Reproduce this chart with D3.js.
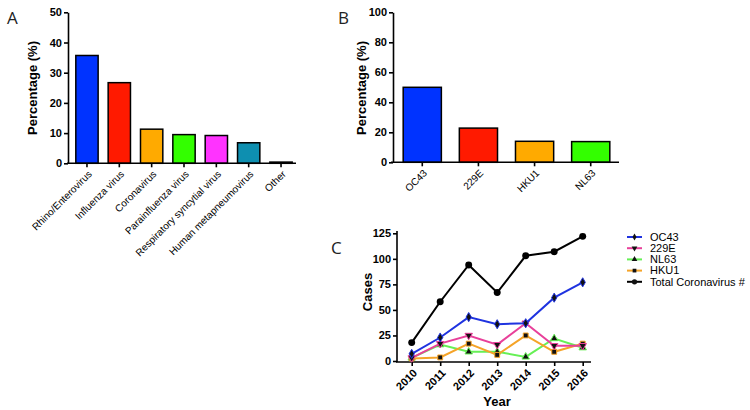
<!DOCTYPE html>
<html><head><meta charset="utf-8">
<script src="https://cdn.jsdelivr.net/npm/d3@7"></script>
<style>
body{margin:0;background:#fff;}
svg{display:block;font-family:"Liberation Sans",Arial,sans-serif;}
.axis path,.axis line{stroke:#000;stroke-width:1.6;}
.axis text{fill:#000;}
</style></head><body>
<svg id="c" width="750" height="410"></svg>
<script>
// Panel A
const catsA = ["Rhino/Enterovirus","Influenza virus","Coronavirus","Parainfluenza virus","Respiratory syncytial virus","Human metapneumovirus","Other"];
const valsA = [35.7, 26.7, 11.3, 9.5, 9.2, 6.8, 0.4];
const colorsA = ["#0033ff","#ff1a00","#ffaa00","#33ff00","#ff33ff","#0e8fb0","#ffffff"];
const ticksA = [0,10,20,30,40,50];
// Panel B
const catsB = ["OC43","229E","HKU1","NL63"];
const valsB = [50, 22.8, 14, 13.8];
const colorsB = ["#0033ff","#ff1a00","#ffaa00","#33ff00"];
const ticksB = [0,20,40,60,80,100];
// Panel C
const years = [2010,2011,2012,2013,2014,2015,2016];
const oc43 = [7, 23, 43, 36, 37, 62, 77];
const e229 = [3, 17, 25, 16, 37, 15, 15];
const nl63 = [3, 16, 9, 9, 4, 22, 13];
const hku1 = [2.5, 3.5, 17, 6, 25, 9, 17];
const total = [18, 58, 94, 67, 103, 107, 122];
const ticksC = [0,25,50,75,100,125];
const seriesNames = ["OC43","229E","NL63","HKU1","Total Coronavirus #"];
const seriesColors = ["#1f33e0","#e8409a","#66f055","#f5a428","#000000"];
const seriesSymbols = [d3.symbolDiamond, d3.symbolTriangle, d3.symbolTriangle, d3.symbolSquare, d3.symbolCircle];

const svg = d3.select("#c");

function panelLetter(t,x,y){
  svg.append("text").attr("x",x).attr("y",y).attr("font-family","'Open Sans',sans-serif")
    .attr("font-size",17).attr("fill","#222").text(t);
}
panelLetter("A",7,24);
panelLetter("B",338,24);
panelLetter("C",331,254);

function styleAxis(g){
  g.attr("class","axis").attr("fill","#000");
  g.selectAll("text").attr("font-weight","bold").attr("font-size",11).attr("fill","#000");
}
function rotateLabels(g, size, weight){
  g.selectAll(".tick text").attr("font-weight",weight).attr("font-size",size)
    .attr("x",0).attr("y",0).attr("dx",0).attr("dy","0.35em")
    .attr("text-anchor","end").attr("transform","translate(3,9) rotate(-45)");
}

// ---- Panel A
const xA = d3.scaleBand().domain(catsA).range([70.8,297.2]).paddingInner(0.31).paddingOuter(0.155);
const yA = d3.scaleLinear().domain([0,50]).range([163.3,12.3]);
svg.append("g").selectAll("rect").data(catsA).join("rect")
  .attr("x",d=>xA(d)).attr("width",xA.bandwidth())
  .attr("y",(d,i)=>yA(valsA[i])).attr("height",(d,i)=>yA(0)-yA(valsA[i]))
  .attr("fill",(d,i)=>colorsA[i]).attr("stroke","#000").attr("stroke-width",1.5);
const gAy = svg.append("g").attr("transform","translate(68,0)")
  .call(d3.axisLeft(yA).tickValues(ticksA).tickSize(4).tickPadding(2).tickSizeOuter(0));
styleAxis(gAy);
const gAx = svg.append("g").attr("transform",`translate(0,${yA(0)})`)
  .call(d3.axisBottom(xA).tickSize(4).tickSizeOuter(0));
styleAxis(gAx);
gAx.select(".domain").attr("d","M67,0H296");
rotateLabels(gAx, 10, "normal");
svg.append("text").attr("transform","translate(37,88) rotate(-90)").attr("text-anchor","middle")
  .attr("font-weight","bold").attr("font-size",13).text("Percentage (%)");

// ---- Panel B
const xB = d3.scaleBand().domain(catsB).range([394.2,618.8]).paddingInner(0.32).paddingOuter(0.16);
const yB = d3.scaleLinear().domain([0,100]).range([162.3,12.3]);
svg.append("g").selectAll("rect").data(catsB).join("rect")
  .attr("x",d=>xB(d)).attr("width",xB.bandwidth())
  .attr("y",(d,i)=>yB(valsB[i])).attr("height",(d,i)=>yB(0)-yB(valsB[i]))
  .attr("fill",(d,i)=>colorsB[i]).attr("stroke","#000").attr("stroke-width",1.5);
const gBy = svg.append("g").attr("transform","translate(393,0)")
  .call(d3.axisLeft(yB).tickValues(ticksB).tickSize(4).tickPadding(2).tickSizeOuter(0));
styleAxis(gBy);
const gBx = svg.append("g").attr("transform",`translate(0,${yB(0)})`)
  .call(d3.axisBottom(xB).tickSize(4).tickSizeOuter(0));
styleAxis(gBx);
gBx.select(".domain").attr("d","M391,0H619");
rotateLabels(gBx, 10, "normal");
svg.append("text").attr("transform","translate(366,88) rotate(-90)").attr("text-anchor","middle")
  .attr("font-weight","bold").attr("font-size",13).text("Percentage (%)");

// ---- Panel C
const xC = d3.scalePoint().domain(years).range([411.7,582.7]);
const yC = d3.scaleLinear().domain([0,125]).range([361,233.3]);
const gCy = svg.append("g").attr("transform","translate(397,0)")
  .call(d3.axisLeft(yC).tickValues(ticksC).tickSize(4).tickPadding(2).tickSizeOuter(0));
styleAxis(gCy);
gCy.select(".domain").attr("d","M0,231V362");
const gCx = svg.append("g").attr("transform",`translate(0,362)`)
  .call(d3.axisBottom(xC).tickSize(4).tickSizeOuter(0));
styleAxis(gCx);
gCx.select(".domain").attr("d","M396,0H591");
rotateLabels(gCx, 11, "bold");
svg.append("text").attr("transform","translate(372,292) rotate(-90)").attr("text-anchor","middle")
  .attr("font-weight","bold").attr("font-size",13).text("Cases");
svg.append("text").attr("x",497).attr("y",406).attr("text-anchor","middle")
  .attr("font-weight","bold").attr("font-size",13).text("Year");

const seriesData = [oc43,e229,nl63,hku1,total];
const line = d3.line().x((d,i)=>xC(years[i])).y(d=>yC(d));
const drawOrder = [2,3,1,0,4];
drawOrder.forEach(k=>{
  const g = svg.append("g");
  g.append("path").attr("d",line(seriesData[k])).attr("fill","none")
    .attr("stroke",seriesColors[k]).attr("stroke-width",2);
  const sym = d3.symbol().type(seriesSymbols[k]).size(k===4?38:24);
  g.selectAll("path.m").data(seriesData[k]).join("path").attr("class","m")
    .attr("d",sym)
    .attr("transform",(d,i)=>`translate(${xC(years[i])},${yC(d)})${k===1?" rotate(180)":""}`)
    .attr("fill",k===4?"#000":"#111").attr("stroke",seriesColors[k]).attr("stroke-width",k===4?0:1);
});

// legend
const lg = svg.append("g");
seriesNames.forEach((n,k)=>{
  const y = 237 + k*11.2;
  lg.append("line").attr("x1",627).attr("x2",642).attr("y1",y).attr("y2",y)
    .attr("stroke",seriesColors[k]).attr("stroke-width",2);
  lg.append("path").attr("d",d3.symbol().type(seriesSymbols[k]).size(k===4?22:14)())
    .attr("transform",`translate(634.5,${y})${k===1?" rotate(180)":""}`).attr("fill","#111");
  lg.append("text").attr("x",650).attr("y",y).attr("dy","0.35em").attr("font-size",11)
    .attr("font-family","'Liberation Sans',Arial,sans-serif").text(n);
});
</script>
</body></html>
